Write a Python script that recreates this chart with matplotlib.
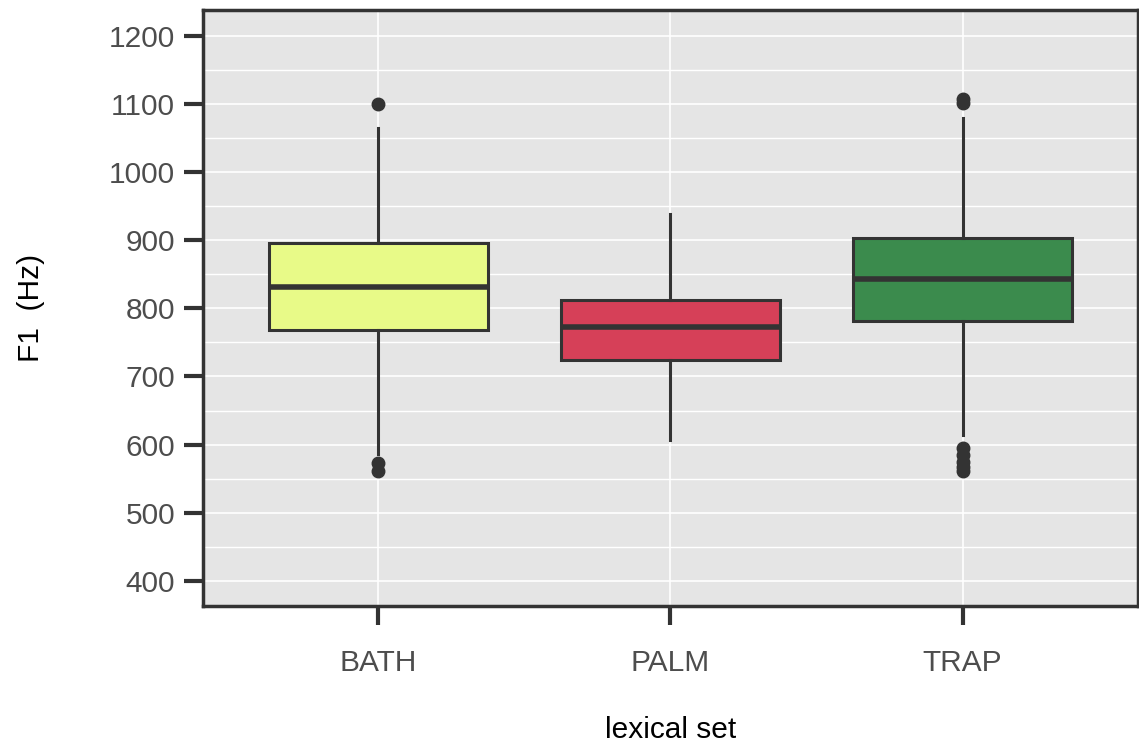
import matplotlib as mpl
mpl.use("Agg")
import matplotlib.pyplot as plt
from matplotlib.ticker import MultipleLocator

# values (Hz)
sets = ["BATH", "PALM", "TRAP"]
q1 = [768, 724, 782]
medians = [832, 773, 843]
q3 = [896, 812, 904]
whisker_low = [586, 607, 614]
whisker_high = [1065, 939, 1080]
outliers = [
    [1100, 573, 561],
    [],
    [1107, 1101, 595, 584, 575, 567, 561],
]
fill_colors = ["#E8FA88", "#D64058", "#3B8B4D"]

EDGE = "#333333"

plt.rcParams["font.family"] = ["Liberation Sans", "DejaVu Sans"]

fig = plt.figure(figsize=(11.39, 7.49), dpi=100)
ax = fig.add_axes([0.1782, 0.1909, 0.8209, 0.7957])
ax.set_facecolor("#E5E5E5")

stats = []
for i, name in enumerate(sets):
    stats.append({
        "label": name, "med": medians[i], "q1": q1[i], "q3": q3[i],
        "whislo": whisker_low[i], "whishi": whisker_high[i], "fliers": outliers[i],
    })

bp = ax.bxp(
    stats, positions=[1, 2, 3], widths=0.75, patch_artist=True, showcaps=False,
    boxprops=dict(edgecolor=EDGE, linewidth=2.2),
    medianprops=dict(color=EDGE, linewidth=4),
    whiskerprops=dict(color=EDGE, linewidth=2.2),
    flierprops=dict(marker="o", markerfacecolor=EDGE, markeredgecolor=EDGE, markersize=9),
    zorder=3,
)
for patch, color in zip(bp["boxes"], fill_colors):
    patch.set_facecolor(color)

ax.set_xlim(0.4, 3.6)
ax.set_ylim(363, 1238)
ax.yaxis.set_major_locator(MultipleLocator(100))
ax.yaxis.set_minor_locator(MultipleLocator(50))
ax.set_yticks(range(400, 1201, 100))
ax.set_xticks([1, 2, 3])
ax.set_xticklabels(sets)

ax.grid(True, which="major", color="white", linewidth=1.2, zorder=0)
ax.grid(True, which="minor", axis="y", color="white", linewidth=1.0, zorder=0)
ax.set_axisbelow(True)

for spine in ax.spines.values():
    spine.set_color(EDGE)
    spine.set_linewidth(2.5)

ax.tick_params(axis="both", which="major", length=14, width=3, color=EDGE,
               labelsize=21.5, labelcolor="#4D4D4D", pad=6)
ax.tick_params(axis="y", which="minor", length=0)
ax.tick_params(axis="x", pad=17)

ax.set_xlabel("lexical set", fontsize=21.5, labelpad=28)
ax.set_ylabel("F1  (Hz)", fontsize=21.5, labelpad=46)

fig.savefig("out.png", dpi=100)
